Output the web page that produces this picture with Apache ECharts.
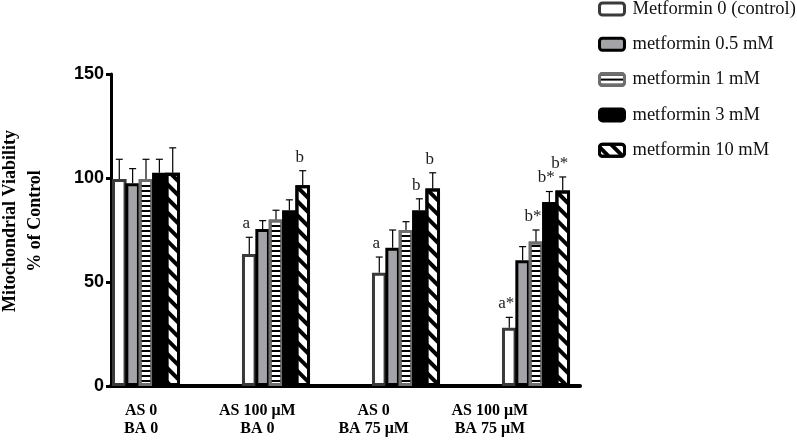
<!DOCTYPE html>
<html><head><meta charset="utf-8">
<script src="https://cdn.jsdelivr.net/npm/echarts@6/dist/echarts.min.js"></script>
<style>html,body{margin:0;padding:0;background:#fff}#c{width:797px;height:444px}</style>
</head><body><div id="c"></div>
<script>
// ---- data ----
const categories = ['AS 0\nBA 0', 'AS 100 μM\nBA 0', 'AS 0\nBA 75 μM', 'AS 100 μM\nBA 75 μM'];
const seriesNames = ['Metformin 0 (control)', 'metformin 0.5 mM', 'metformin 1 mM', 'metformin 3 mM', 'metformin 10 mM'];
const met0  = [99.5, 63.5, 54.5, 28];
const met05 = [97.5, 75.5, 66.5, 60.5];
const met1  = [99.5, 80, 75, 69.5];
const met3  = [102.5, 84.5, 84.5, 88.5];
const met10 = [102.5, 96.5, 95, 94];
const err0  = [9.5, 8, 7.5, 5];
const err05 = [7, 4, 8.5, 6.5];
const err1  = [9.5, 4.5, 4, 5.5];
const err3  = [6.5, 5, 5.5, 5];
const err10 = [12, 7, 7.5, 6.5];
const sig0  = ['', 'a', 'a', 'a*'];
const sig05 = ['', '', '', ''];
const sig1  = ['', '', '', 'b*'];
const sig3  = ['', '', 'b', 'b*'];
const sig10 = ['', 'b', 'b', 'b*'];
const yMin = 0, yMax = 150, yStep = 50;

const values = [met0, met05, met1, met3, met10];
const errs = [err0, err05, err1, err3, err10];
const sigs = [sig0, sig05, sig1, sig3, sig10];

// ---- styles ----
const BAR_W = 14.6, GAP = -0.085, STEP = BAR_W * (1 + GAP);
const styles = [
  {color: '#ffffff', borderColor: '#3a3a3a', borderWidth: 3},
  {color: '#a4a4a8', borderColor: '#000000', borderWidth: 3},
  {color: '#ffffff', borderColor: '#6e6e6e', borderWidth: 3,
   decal: {symbol: 'rect', symbolSize: 1, dashArrayX: [1, 0], dashArrayY: [1.5, 2.5], color: '#000'}},
  {color: '#000000', borderColor: '#000000', borderWidth: 3},
  {color: '#ffffff', borderColor: '#000000', borderWidth: 3,
   decal: {symbol: 'rect', symbolSize: 1, dashArrayX: [1, 0], dashArrayY: [4, 6], rotation: Math.PI / 4, color: '#000'}}
];

const TOP = 74, HEIGHT = 312;
const series = [];
seriesNames.forEach((n, d) => {
  series.push({
    name: n, type: 'bar', xAxisIndex: 0, yAxisIndex: 0,
    barWidth: BAR_W, barGap: (GAP * 100) + '%',
    data: values[d], itemStyle: styles[d], z: 2 + d
  });
});
const errData = [];
values.forEach((arr, d) => arr.forEach((v, c) => errData.push([c, v, v + errs[d][c], d])));
series.push({
  type: 'custom', xAxisIndex: 0, yAxisIndex: 0, z: 10, silent: true,
  data: errData,
  renderItem: function (params, api) {
    const c = api.value(0), v = api.value(1), t = api.value(2), d = api.value(3);
    const b = api.coord([c, v]), tp = api.coord([c, t]);
    const x = b[0] + (d - 2) * STEP;
    const children = [
      {type: 'line', shape: {x1: x, y1: b[1], x2: x, y2: tp[1]}, style: {stroke: '#000', lineWidth: 1.2}},
      {type: 'line', shape: {x1: x - 3.5, y1: tp[1], x2: x + 3.5, y2: tp[1]}, style: {stroke: '#000', lineWidth: 1.2}}
    ];
    const s = sigs[d][c];
    if (s) children.push({type: 'text', style: {text: s, x: x - 3, y: tp[1] - 5, align: 'center', verticalAlign: 'bottom',
      font: '17px "Liberation Serif"', fill: '#222'}});
    return {type: 'group', children: children};
  }
});

const chart = echarts.init(document.getElementById('c'), null, {renderer: 'canvas'});
chart.setOption({
  animation: false,
  backgroundColor: '#fff',
  grid: [
    {left: 81, width: 520, top: TOP, height: HEIGHT, outerBoundsMode: 'none', containLabel: false},
    {left: 111, width: 469, top: TOP, height: HEIGHT, outerBoundsMode: 'none', containLabel: false},
    {left: 83, width: 465, top: TOP, height: HEIGHT, outerBoundsMode: 'none', containLabel: false}
  ],
  legend: {
    data: seriesNames, orient: 'vertical', left: 593, top: -5.5,
    itemWidth: 25, itemHeight: 12, itemGap: 16.3,
    itemStyle: {borderWidth: 3},
    textStyle: {fontFamily: 'Liberation Serif', fontSize: 18.5, color: '#111', lineHeight: 17, padding: [0, 0, 0, 3]}
  },
  xAxis: [
    {type: 'category', gridIndex: 0, data: categories, show: false},
    {type: 'value', gridIndex: 1, min: 0, max: 1, axisLine: {show: true, lineStyle: {color: '#000', width: 4}},
     axisTick: {show: false}, axisLabel: {show: false}, splitLine: {show: false}},
    {type: 'category', gridIndex: 2, data: categories, axisLine: {show: false}, axisTick: {show: false},
     axisLabel: {margin: 16, fontFamily: 'Liberation Serif', fontWeight: 'bold', fontSize: 16, lineHeight: 18, color: '#000'}}
  ],
  yAxis: [
    {type: 'value', gridIndex: 0, min: yMin, max: yMax, show: false},
    {type: 'value', gridIndex: 1, min: yMin, max: yMax, interval: yStep,
     axisLine: {show: true, lineStyle: {color: '#000', width: 3}},
     axisTick: {show: true, length: 5, lineStyle: {color: '#000', width: 3}},
     axisLabel: {margin: 7, fontFamily: 'Liberation Sans', fontWeight: 'bold', fontSize: 18, color: '#000'},
     splitLine: {show: false},
     name: 'Mitochondrial Viability\n% of Control', nameLocation: 'middle', nameGap: 63,
     nameTextStyle: {fontFamily: 'Liberation Serif', fontWeight: 'bold', fontSize: 18, lineHeight: 25, color: '#000', padding: [0, 0, 0, 18]}},
    {type: 'value', gridIndex: 2, min: yMin, max: yMax, show: false}
  ],
  series: series
});
</script>
</body></html>
